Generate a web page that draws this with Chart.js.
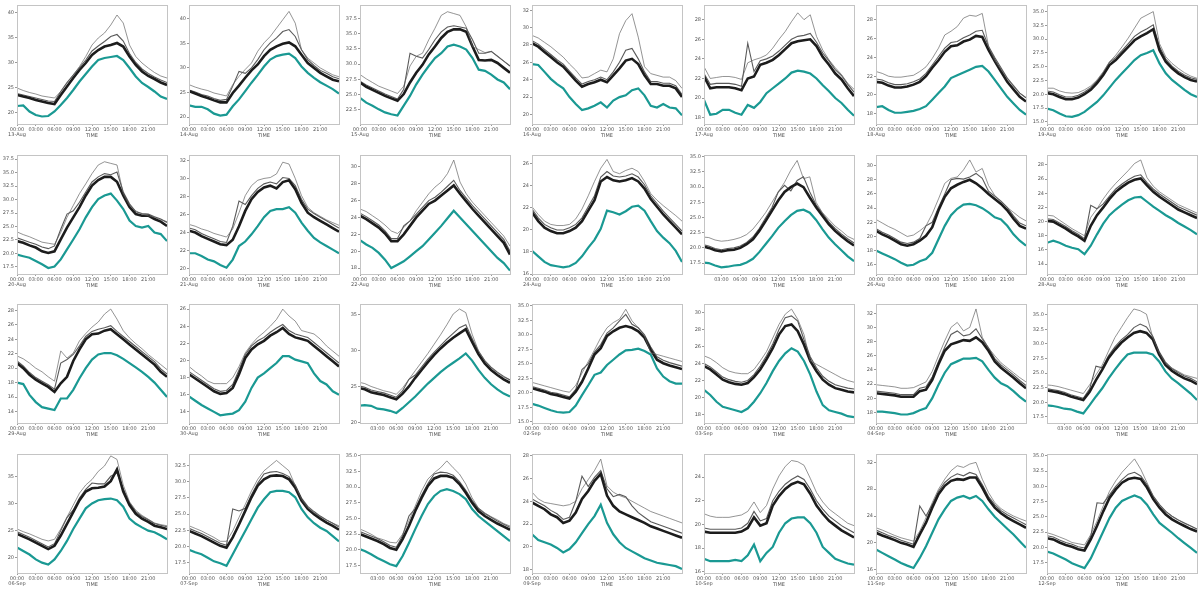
<!DOCTYPE html>
<html>
<head>
<meta charset="utf-8">
<script src="https://cdn.jsdelivr.net/npm/chart.js"></script>
<style>
  html, body { margin: 0; padding: 0; background: #fff; overflow: hidden; }
  #grid { position: relative; width: 1202px; height: 589px; }
  #grid canvas { position: absolute; }
</style>
</head>
<body>
<div id="grid"></div>
<script>
// hourly samples, 00:00 .. 24:00
const hours = [0,1,2,3,4,5,6,7,8,9,10,11,12,13,14,15,16,17,18,19,20,21,22,23,24];
const tickHours = [0, 3, 6, 9, 12, 15, 18, 21];

// one panel per day; null = day starts after midnight so no 00:00 label
const dayLabels = [
  '13-Aug','14-Aug','15-Aug','16-Aug','17-Aug','18-Aug','19-Aug',
  '20-Aug','21-Aug','22-Aug','24-Aug',null,'26-Aug','28-Aug',
  '29-Aug','30-Aug',null,'02-Sep','03-Sep','04-Sep',null,
  '06-Sep','07-Sep',null,'09-Sep','10-Sep','11-Sep','12-Sep'
];

const yMin = [17.7,18.6,20.2,18.9,17.35,16.9,14.6, 16.2,19.4,17.3,16.0,15.7,14.7,12.6, 12.4,12.7,19.9,14.8,17.0,16.5,16.45, 17.2,15.9,16.3,17.7,15.9,15.5,15.8];
const yMax = [41.5,42.8,39.7,32.6,29.5,29.6,36.2, 38.25,32.6,31.4,26.8,35.3,31.5,29.4, 28.9,26.6,36.5,35.3,31.0,33.3,36.85, 39.1,34.3,35.3,28.15,25.95,33.25,35.3];
const yStep = [5,5,2.5,2,2,2,2.5, 2.5,2,2,2,2.5,2,2, 2,2,5,2.5,2,2,2.5, 5,2.5,2.5,2,2,4,2.5];

// outdoor temperature (teal)
const outdoor = [
  [21.3,21.4,20.2,19.5,19.2,19.3,20.2,21.5,22.9,24.5,26.2,27.7,29.2,30.5,30.9,31.1,31.3,30.5,28.9,27.2,25.9,25.1,24.2,23.2,22.7],
  [22.4,22.1,22.1,21.6,20.7,20.3,20.5,22.2,23.6,25.3,27.0,28.6,30.3,31.7,32.4,32.7,32.9,32.0,30.3,29.0,28.0,27.1,26.4,25.7,24.8],
  [24.5,23.7,23.2,22.6,22.1,21.8,21.6,23.2,24.8,26.7,28.3,29.7,31.0,31.8,32.9,33.2,32.9,32.4,31.0,29.1,28.9,28.3,27.5,27.0,25.9],
  [25.8,25.7,24.9,24.1,23.5,23.0,22.0,21.2,20.5,20.7,21.0,21.4,20.8,21.6,22.0,22.2,22.8,23.0,22.2,21.0,20.8,21.2,20.8,20.7,19.9],
  [19.8,18.3,18.4,18.8,18.8,18.5,18.3,19.3,19.0,19.6,20.5,21.0,21.5,22.0,22.6,22.8,22.7,22.5,22.0,21.3,20.7,20.0,19.5,18.8,18.2],
  [18.7,18.8,18.4,18.1,18.1,18.2,18.3,18.5,18.8,19.5,20.2,20.9,21.8,22.1,22.4,22.7,23.0,23.1,22.5,21.6,20.7,19.8,19.1,18.4,17.9],
  [17.4,17.1,16.5,16.0,15.9,16.2,16.8,17.7,18.6,19.8,21.2,22.6,23.8,25.0,26.2,27.1,27.5,28.0,25.6,23.8,22.6,21.7,20.8,20.0,19.5],
  [19.8,19.5,19.2,18.6,18.0,17.3,17.6,18.9,20.75,22.6,24.5,26.7,28.6,30.1,30.75,31.1,29.8,28.25,26.1,25.1,24.8,25.1,23.9,23.6,22.3],
  [21.7,21.7,21.4,21.0,20.8,20.4,20.1,21.0,22.5,23.0,23.8,24.7,25.7,26.4,26.6,26.6,26.8,26.2,25.1,24.2,23.4,22.9,22.5,22.1,21.7],
  [21.3,20.8,20.4,19.8,19.0,18.0,18.4,18.8,19.4,20.0,20.6,21.4,22.2,23.0,23.9,24.8,24.0,23.2,22.4,21.6,20.8,20.0,19.2,18.6,17.7],
  [18.1,17.6,17.1,16.8,16.7,16.6,16.7,17.0,17.6,18.4,19.1,20.1,21.75,21.6,21.4,21.7,22.1,22.2,21.75,20.8,19.9,19.3,18.8,18.1,17.1],
  [17.6,17.5,17.1,16.8,16.9,17.1,17.2,17.6,18.2,19.3,20.6,21.9,23.3,24.4,25.4,26.1,26.3,25.8,24.6,23.1,21.7,20.6,19.6,18.6,17.8],
  [18.0,17.6,17.2,16.8,16.3,15.9,16.0,16.5,16.8,17.7,19.6,21.5,23.0,23.9,24.5,24.6,24.4,24.0,23.4,22.7,22.4,21.5,20.3,19.4,18.7],
  [17.0,17.3,17.0,16.6,16.3,16.1,15.4,16.6,18.2,19.7,20.9,21.7,22.4,23.0,23.4,23.5,22.8,22.1,21.5,20.9,20.4,19.8,19.3,18.8,18.2],
  [18.0,17.8,16.3,15.3,14.6,14.4,14.2,15.8,15.8,17.0,18.6,20.0,21.2,21.9,22.1,22.1,21.8,21.3,20.7,20.1,19.5,18.8,18.0,17.0,16.0],
  [15.8,15.3,14.8,14.4,14.0,13.6,13.7,13.8,14.2,15.2,16.8,18.0,18.5,19.1,19.7,20.5,20.5,20.1,19.9,19.7,18.5,17.6,17.2,16.4,16.0],
  [22.3,22.4,22.3,21.9,21.8,21.6,21.3,22.0,22.8,23.6,24.5,25.4,26.2,27.0,27.7,28.3,28.9,29.6,28.6,27.3,26.2,25.3,24.6,24.0,23.6],
  [18.1,17.8,17.4,17.0,16.7,16.6,16.7,17.8,19.6,21.3,23.1,23.5,24.8,25.7,26.6,27.3,27.4,27.6,27.2,26.6,24.2,22.8,22.0,21.6,21.6],
  [20.9,20.3,19.5,18.9,18.7,18.5,18.3,18.7,19.5,20.5,21.7,23.1,24.3,25.2,25.8,25.4,24.3,22.7,20.7,19.1,18.5,18.3,18.1,17.8,17.7],
  [18.1,18.1,18.0,17.9,17.7,17.7,17.9,18.3,18.6,20.0,21.9,23.6,24.8,25.2,25.6,25.6,25.7,25.2,24.0,22.9,22.1,21.7,21.0,20.2,19.5],
  [19.5,19.4,19.2,18.9,18.8,18.4,18.1,19.5,21.0,22.4,24.1,25.6,27.0,28.2,28.5,28.5,28.5,28.2,27.0,25.3,24.1,23.3,22.4,21.5,20.4],
  [21.9,21.25,20.6,19.7,19.1,18.75,19.7,21.25,23.1,25.3,27.2,29.1,30.0,30.6,30.8,30.9,30.6,29.4,27.2,26.25,25.6,25.0,24.7,24.1,23.4],
  [19.5,19.1,18.8,18.25,17.7,17.4,17.0,18.8,20.6,22.4,24.2,26.0,27.3,28.4,28.6,28.6,28.4,27.6,25.8,24.5,23.6,22.9,22.4,21.6,20.8],
  [20.2,19.8,19.3,18.7,18.2,17.7,17.4,19.0,21.1,23.3,25.4,27.3,28.6,29.4,29.7,29.4,28.9,28.1,26.5,25.4,24.6,23.8,23.0,22.2,21.4],
  [21.1,20.6,20.4,20.2,19.9,19.5,19.8,20.4,21.2,22.0,22.7,23.7,22.1,21.1,20.4,19.9,19.6,19.3,19.0,18.8,18.6,18.5,18.4,18.3,18.05],
  [17.1,16.9,16.9,16.9,16.9,17.0,16.9,17.4,18.3,16.9,17.6,18.1,19.3,20.1,20.5,20.6,20.6,20.1,19.3,18.1,17.6,17.1,16.9,16.7,16.6],
  [19.0,18.5,18.0,17.5,17.0,16.6,16.25,17.75,19.5,21.5,23.5,25.0,26.25,26.75,27.0,26.6,27.0,26.25,25.0,23.9,23.0,22.1,21.25,20.25,19.25],
  [19.3,19.0,18.5,18.0,17.4,17.0,16.6,18.2,20.4,22.6,24.8,26.5,27.6,28.1,28.5,28.1,27.0,25.4,24.0,23.2,22.4,21.5,20.7,19.9,19.1]
];

// indoor sensors: dense middle of the bundle
const indoorMain = [
  [23.5,23.2,22.9,22.5,22.2,21.9,21.7,23.5,25.2,26.9,28.5,29.9,31.5,32.5,33.2,33.5,33.9,33.2,31.2,29.5,28.2,27.3,26.7,26.0,25.5],
  [25.3,24.8,24.3,23.9,23.4,23.0,23.0,24.9,26.4,28.0,29.5,30.7,32.4,33.7,34.4,34.9,35.2,34.4,32.7,31.0,30.0,29.0,28.3,27.6,27.3],
  [27.0,26.3,25.8,25.3,24.8,24.4,24.0,25.1,27.0,28.6,29.9,31.6,32.9,34.3,35.3,35.7,35.7,35.3,32.9,30.7,30.6,30.7,30.2,29.4,28.6],
  [28.2,27.8,27.2,26.6,26.0,25.5,24.7,23.9,23.2,23.5,23.7,24.0,23.7,24.5,25.3,26.2,26.4,25.8,24.5,23.5,23.5,23.3,23.3,23.0,22.0],
  [22.2,21.0,21.1,21.1,21.1,21.0,20.8,22.0,22.2,23.4,23.6,23.9,24.4,25.0,25.6,25.8,25.9,26.0,25.3,24.2,23.4,22.5,21.9,21.0,20.2],
  [21.4,21.3,21.0,20.8,20.8,20.9,21.1,21.4,22.0,22.9,23.7,24.6,25.2,25.3,25.7,25.9,26.3,26.2,24.8,23.6,22.5,21.4,20.6,19.8,19.3],
  [20.2,20.0,19.5,19.1,19.1,19.4,20.0,20.8,22.0,23.5,25.3,26.2,27.4,28.6,29.8,30.5,31.1,31.8,28.0,25.9,24.7,23.8,23.1,22.6,22.3],
  [22.3,22.0,21.5,21.1,20.4,20.1,20.4,22.6,24.8,26.7,28.6,30.75,32.6,33.6,34.2,34.2,33.3,30.75,28.6,27.3,27.0,27.0,26.4,25.9,25.1],
  [24.2,24.0,23.6,23.3,23.0,22.7,22.6,23.2,24.7,26.4,27.7,28.5,29.0,29.2,28.9,29.6,29.8,28.8,27.3,26.2,25.7,25.3,24.9,24.5,24.1],
  [24.2,23.8,23.3,22.8,22.1,21.2,21.2,22.0,23.0,24.0,24.8,25.6,26.0,26.6,27.2,27.8,26.8,25.9,25.0,24.2,23.4,22.6,21.8,21.0,19.6],
  [21.6,20.8,20.2,19.9,19.7,19.7,19.9,20.2,20.8,21.75,22.7,24.4,24.8,24.5,24.4,24.5,24.7,24.4,23.75,22.8,22.1,21.4,20.8,20.2,19.6],
  [20.3,20.0,19.6,19.4,19.6,19.7,20.0,20.6,21.4,22.8,24.4,26.1,27.8,29.2,30.0,30.6,30.0,28.3,26.7,25.3,23.9,22.8,21.9,21.1,20.4],
  [20.8,20.3,19.9,19.4,18.9,18.7,18.9,19.4,20.1,21.3,23.7,25.6,26.8,27.3,27.7,28.0,27.5,26.8,26.0,25.3,24.6,23.7,22.5,21.5,21.1],
  [20.1,20.0,19.5,19.0,18.4,17.9,17.3,19.4,20.9,22.0,23.2,24.2,24.9,25.5,25.9,26.1,25.1,24.2,23.5,22.9,22.3,21.7,21.3,20.9,20.5],
  [20.7,20.0,19.1,18.4,17.9,17.4,16.7,17.9,18.8,21.0,22.6,24.0,24.7,24.8,25.2,25.4,24.7,24.0,23.3,22.6,21.9,21.2,20.5,19.5,18.8],
  [18.4,17.9,17.4,16.9,16.4,16.1,16.2,16.8,18.4,20.3,21.3,21.9,22.3,22.9,23.3,23.8,23.1,22.7,22.5,22.3,21.7,21.1,20.5,19.9,19.3],
  [24.8,24.6,24.2,24.0,23.8,23.5,23.2,24.0,25.0,26.2,27.3,28.4,29.4,30.3,31.1,31.8,32.4,33.0,31.2,29.5,28.2,27.3,26.6,26.0,25.5],
  [20.8,20.5,20.2,19.8,19.6,19.3,19.0,20.2,21.9,24.2,26.6,27.7,29.8,30.6,31.2,31.5,31.2,30.6,29.5,27.4,25.7,25.1,24.7,24.4,24.1],
  [23.7,23.3,22.7,22.1,21.8,21.6,21.5,21.7,22.4,23.3,24.5,25.8,27.4,28.4,28.6,27.8,26.2,24.3,23.1,22.1,21.5,21.1,20.9,20.7,20.6],
  [20.7,20.6,20.5,20.4,20.2,20.2,20.2,21.0,21.2,22.6,24.8,26.7,27.6,27.9,28.2,28.1,28.6,27.9,26.7,25.2,24.3,23.6,22.9,22.1,21.4],
  [22.1,21.9,21.7,21.4,21.0,20.7,20.4,21.8,23.8,25.6,27.6,29.0,30.2,31.1,31.9,32.2,31.9,30.8,28.2,26.4,25.4,24.7,24.1,23.7,23.1],
  [24.4,23.9,23.4,22.8,22.2,21.6,22.2,24.1,26.25,28.4,30.6,32.2,32.8,32.9,33.1,34.1,36.25,32.2,29.7,28.1,27.2,26.6,25.9,25.6,25.3],
  [22.4,22.0,21.6,21.1,20.6,20.1,19.8,21.4,23.4,25.5,27.6,29.4,30.4,30.9,31.0,30.9,30.4,29.1,27.1,25.8,25.0,24.3,23.7,23.2,22.6],
  [22.6,22.2,21.8,21.4,20.9,20.3,20.0,21.7,23.8,26.2,28.3,30.2,31.4,31.8,31.8,31.5,30.5,29.1,27.5,26.2,25.4,24.8,24.2,23.7,23.2],
  [23.9,23.6,23.3,22.85,22.6,22.1,22.3,23.0,24.2,24.9,25.8,26.4,24.5,23.6,23.1,22.85,22.6,22.35,22.1,21.8,21.6,21.4,21.2,21.0,20.8],
  [19.4,19.3,19.3,19.3,19.3,19.3,19.4,19.7,20.6,19.9,20.1,21.6,22.4,23.0,23.4,23.6,23.4,22.6,21.6,20.9,20.3,19.9,19.5,19.2,18.9],
  [21.5,21.1,20.75,20.4,20.0,19.75,19.4,21.25,23.0,25.25,27.25,28.5,29.25,29.5,29.4,29.75,29.75,28.25,26.5,25.25,24.4,23.75,23.25,22.75,22.25],
  [21.5,21.3,20.8,20.4,20.1,19.7,19.5,21.3,23.5,25.9,28.1,29.5,30.6,31.2,31.4,31.2,29.8,27.9,26.5,25.4,24.6,24.0,23.5,23.0,22.6]
];

// indoor sensors: upper edge of the bundle
const indoorUpper = [
  [23.8,23.5,23.2,22.9,22.6,22.3,22.2,24.2,26.0,27.5,29.0,30.5,32.3,33.3,34.2,35.2,35.6,34.3,31.8,30.0,28.7,27.8,27.1,26.5,26.0],
  [25.5,25.1,24.6,24.3,23.8,23.4,23.6,26.3,29.3,28.9,30.0,31.7,33.7,35.1,36.1,37.4,37.8,36.4,33.7,31.7,30.5,29.5,28.9,28.2,27.8],
  [27.2,26.6,26.1,25.6,25.1,24.7,24.3,25.9,31.8,31.3,31.0,32.4,34.0,35.3,36.1,36.3,36.1,35.9,34.0,31.8,31.8,32.1,31.3,30.5,29.7],
  [28.5,28.1,27.5,26.9,26.3,25.8,25.0,24.2,23.5,23.8,24.0,24.3,24.0,24.9,26.0,27.4,27.6,26.4,24.9,23.8,23.8,23.6,23.6,23.3,22.3],
  [22.5,21.4,21.5,21.5,21.5,21.4,21.2,25.6,22.7,23.8,24.0,24.3,24.8,25.4,26.0,26.3,26.4,26.6,25.7,24.6,23.8,22.9,22.3,21.4,20.6],
  [21.7,21.6,21.3,21.1,21.1,21.2,21.4,21.7,22.3,23.2,24.1,25.0,25.6,25.7,26.1,26.4,26.8,26.9,25.2,24.0,22.9,21.8,21.0,20.2,19.7],
  [20.6,20.4,19.9,19.5,19.5,19.8,20.4,21.2,22.4,23.9,25.8,26.7,27.9,29.2,30.5,31.3,31.9,32.6,28.6,26.4,25.1,24.2,23.5,23.0,22.7],
  [22.9,22.5,22.1,21.7,21.2,20.9,21.4,24.5,27.3,27.9,29.5,31.4,33.25,34.2,34.8,34.6,35.1,31.4,29.2,27.75,27.4,27.3,26.8,26.4,25.75],
  [24.5,24.3,23.9,23.6,23.3,23.0,22.9,24.7,27.5,27.1,28.1,28.9,29.4,29.6,29.4,30.1,30.0,29.2,27.7,26.6,26.1,25.7,25.3,24.9,24.5],
  [24.5,24.1,23.6,23.1,22.4,21.5,21.5,23.0,23.6,24.4,25.2,26.0,26.4,27.0,27.7,28.4,27.2,26.3,25.4,24.6,23.8,23.0,22.2,21.4,20.0],
  [21.9,21.1,20.5,20.2,20.0,20.0,20.2,20.5,21.1,22.1,23.1,24.8,25.3,24.9,24.8,24.9,25.1,24.8,24.1,23.1,22.4,21.7,21.1,20.5,19.9],
  [20.6,20.3,19.9,19.7,19.9,20.0,20.3,20.9,21.8,23.2,24.9,26.6,29.2,30.3,29.4,31.1,31.7,29.2,27.1,25.7,24.3,23.2,22.3,21.5,20.8],
  [21.1,20.6,20.2,19.7,19.2,19.0,19.2,19.7,21.5,22.0,24.1,26.0,28.0,28.2,28.1,28.4,28.9,28.2,26.4,25.7,25.0,24.1,22.9,21.9,21.5],
  [20.4,20.3,19.8,19.3,18.7,18.2,17.6,22.3,21.8,22.5,23.6,24.6,25.3,25.9,26.4,26.6,25.5,24.6,23.9,23.3,22.7,22.1,21.7,21.3,20.9],
  [21.0,20.3,19.4,18.7,18.2,17.7,17.1,20.7,21.2,21.9,23.1,24.4,25.1,25.4,25.6,25.9,25.1,24.4,23.7,23.0,22.3,21.6,20.9,19.9,19.2],
  [18.7,18.2,17.7,17.2,16.7,16.4,16.5,17.2,18.9,20.7,21.7,22.3,22.7,23.3,23.8,24.2,23.5,23.1,22.9,22.7,22.1,21.5,20.9,20.3,19.7],
  [25.1,24.9,24.5,24.3,24.1,23.8,23.5,24.4,26.0,26.6,27.7,28.8,29.8,30.7,31.6,32.4,33.2,33.6,31.7,29.9,28.6,27.7,27.0,26.4,25.9],
  [21.1,20.8,20.5,20.1,19.9,19.6,19.3,20.6,24.0,25.0,27.0,28.3,30.3,31.2,32.4,33.5,31.8,31.2,30.0,27.9,26.2,25.6,25.2,24.9,24.6],
  [24.0,23.6,23.0,22.4,22.1,21.9,21.8,22.0,22.7,23.7,24.9,26.3,28.0,29.4,29.6,29.0,26.8,24.8,23.5,22.5,21.9,21.5,21.3,21.1,21.0],
  [21.0,20.9,20.8,20.7,20.5,20.5,20.5,21.4,21.6,23.0,25.2,27.2,29.0,29.5,28.8,29.0,29.8,28.4,27.1,25.6,24.7,24.0,23.3,22.5,21.8],
  [22.4,22.2,22.0,21.7,21.3,21.0,20.7,22.3,26.2,25.9,28.0,29.5,30.7,31.6,32.8,33.4,32.9,31.3,28.7,26.9,25.8,25.1,24.5,24.1,23.5],
  [24.8,24.3,23.8,23.2,22.6,22.0,22.6,25.0,27.4,28.8,31.0,32.6,33.75,33.6,33.6,35.0,35.6,32.7,30.1,28.5,27.6,27.0,26.3,26.0,25.7],
  [22.8,22.4,22.0,21.5,21.0,20.5,20.2,25.8,25.5,25.9,28.0,29.8,31.2,31.5,31.6,31.3,30.8,29.5,27.5,26.2,25.4,24.7,24.1,23.6,23.0],
  [23.0,22.6,22.2,21.8,21.3,20.7,20.4,22.3,25.4,26.6,28.7,30.6,32.1,32.4,32.3,31.9,30.9,29.5,27.9,26.6,25.8,25.2,24.6,24.1,23.6],
  [24.2,23.9,23.6,23.2,22.9,22.4,22.6,24.0,26.2,25.3,26.1,26.7,25.1,24.4,24.6,24.4,23.6,23.0,22.6,22.2,22.0,21.8,21.6,21.4,21.2],
  [19.7,19.6,19.6,19.6,19.6,19.6,19.7,20.1,21.1,20.3,20.5,22.0,22.8,23.4,23.8,24.1,23.8,23.0,22.0,21.3,20.7,20.3,19.9,19.6,19.3],
  [21.9,21.5,21.1,20.8,20.4,20.1,19.8,25.5,24.0,25.7,27.7,29.0,29.8,30.3,30.0,30.5,30.2,28.7,26.9,25.7,24.8,24.2,23.7,23.2,22.7],
  [21.9,21.7,21.2,20.8,20.5,20.1,19.9,21.8,27.3,27.2,28.6,30.0,31.1,32.0,32.3,31.7,30.3,28.4,27.0,25.9,25.1,24.5,24.0,23.5,23.0]
];

// indoor sensors: the warmest one
const indoorTop = [
  [24.9,24.4,24.0,23.7,23.3,23.1,22.9,24.2,25.9,27.5,29.2,31.2,33.5,34.9,35.9,37.5,39.5,37.9,33.5,31.2,29.9,28.9,28.0,27.3,26.9],
  [26.6,26.1,25.7,25.4,24.9,24.6,24.3,26.6,28.3,29.7,31.0,33.4,35.1,36.4,38.1,39.8,41.5,39.1,33.7,32.0,31.0,30.0,29.3,28.6,28.2],
  [28.3,27.6,27.0,26.4,26.0,25.6,25.2,26.4,29.7,31.3,31.8,34.0,35.9,38.0,38.6,38.3,38.0,36.1,32.9,32.4,31.9,32.1,31.3,30.5,29.7],
  [29.1,28.8,28.3,27.8,27.2,26.6,25.8,25.1,24.2,24.3,24.7,25.1,24.9,26.4,29.3,30.8,31.6,28.9,25.5,24.7,24.5,24.3,24.3,23.9,23.0],
  [23.2,22.0,22.1,22.2,22.2,22.1,21.9,23.6,23.9,24.1,24.4,25.1,26.0,26.8,27.8,28.7,28.0,28.5,26.3,24.9,23.9,23.1,22.4,21.5,20.9],
  [22.5,22.3,22.0,21.9,21.9,22.0,22.1,22.5,23.0,23.9,25.0,26.4,26.8,27.3,28.2,28.5,28.4,28.7,25.2,23.7,22.7,21.8,20.9,20.2,19.7],
  [21.1,21.1,20.6,20.3,20.2,20.3,20.8,21.5,22.6,24.1,25.9,27.1,28.6,30.2,32.0,33.8,34.4,35.0,29.2,26.8,25.6,24.7,23.9,23.3,22.9],
  [24.0,23.5,23.1,22.6,22.1,21.9,21.7,23.9,26.7,28.9,31.1,32.9,34.8,36.4,37.0,36.7,36.4,31.1,28.9,27.9,27.3,27.0,26.7,26.25,25.9],
  [24.9,24.7,24.4,24.2,23.9,23.7,23.5,24.4,26.2,28.1,29.2,29.8,30.0,30.1,30.5,31.8,31.6,30.0,28.1,26.8,26.2,25.8,25.4,25.1,24.8],
  [25.0,24.7,24.2,23.7,23.1,22.4,22.1,22.8,23.6,24.8,25.8,26.8,27.6,28.2,29.2,30.8,28.2,26.8,25.8,25.0,24.2,23.4,22.6,21.8,20.6],
  [22.1,21.4,20.8,20.5,20.4,20.4,20.5,21.0,21.9,23.1,24.4,25.6,26.4,25.3,25.1,25.4,25.6,25.3,24.4,23.3,22.7,22.2,21.75,21.3,20.8],
  [21.8,21.7,21.3,21.1,21.2,21.4,21.7,22.2,23.1,24.4,25.8,27.5,29.2,30.8,32.8,34.4,31.4,31.7,27.5,25.8,24.7,23.6,22.8,21.9,21.4],
  [22.4,21.9,21.4,21.0,20.5,20.0,20.2,20.8,21.5,23.2,25.3,27.5,28.2,28.4,29.4,30.8,29.1,29.6,27.2,25.8,24.9,24.1,23.4,22.7,22.2],
  [20.9,20.8,20.2,19.6,19.0,18.5,18.0,20.6,21.8,23.2,24.4,25.4,26.3,27.2,28.2,28.7,26.2,25.0,24.2,23.6,23.0,22.4,22.0,21.6,21.2],
  [21.7,21.3,20.7,20.0,19.5,18.8,18.2,22.4,21.4,22.1,23.8,24.8,25.7,26.4,27.5,28.2,26.8,25.2,24.2,23.4,22.7,21.9,21.2,20.5,19.8],
  [19.3,18.7,18.2,17.6,17.3,17.3,17.3,18.0,19.3,20.9,21.9,22.7,23.3,24.0,24.8,26.0,25.2,24.6,23.5,23.3,23.1,22.5,21.7,21.1,20.5],
  [25.6,25.4,25.0,24.7,24.4,24.2,23.9,24.8,26.0,27.2,28.4,29.6,30.9,32.2,33.6,35.1,35.8,35.3,32.3,30.0,28.6,27.6,26.9,26.3,25.9],
  [21.8,21.5,21.2,20.9,20.6,20.3,20.1,21.3,23.4,25.4,27.4,29.5,31.2,32.1,32.7,34.4,32.4,31.2,29.8,26.9,26.6,26.3,26.0,25.7,25.4],
  [24.9,24.6,24.1,23.5,23.1,22.9,22.8,22.8,23.3,24.3,25.4,27.0,28.6,29.8,30.4,29.2,27.4,24.3,23.9,23.5,23.1,22.7,22.3,22.0,21.8],
  [21.9,21.8,21.7,21.6,21.4,21.4,21.5,21.9,22.3,23.8,26.0,28.1,30.0,30.7,29.5,30.0,32.6,28.6,27.1,26.0,25.0,24.3,23.6,22.9,22.3],
  [23.0,22.9,22.7,22.4,22.1,21.8,21.5,23.0,24.7,26.4,28.8,31.1,32.8,34.5,36.0,35.7,35.1,31.1,28.5,26.7,25.9,25.3,24.7,24.4,24.1],
  [25.3,24.8,24.4,23.9,23.4,23.1,23.4,25.3,27.5,29.7,31.9,33.4,34.4,35.9,36.9,38.75,38.1,33.4,30.3,28.75,27.8,27.1,26.4,26.1,25.9],
  [23.2,22.8,22.4,21.9,21.4,20.8,20.8,22.4,24.5,26.5,28.6,30.4,31.7,32.5,33.3,32.5,31.7,29.4,27.3,26.0,25.2,24.6,24.1,23.6,23.2],
  [23.4,23.0,22.5,21.9,21.6,21.2,21.1,22.5,24.6,27.0,29.4,31.3,32.3,33.1,34.2,33.1,32.1,30.5,28.3,26.7,25.9,25.3,24.8,24.2,23.8],
  [24.8,24.2,23.9,23.8,23.7,23.6,23.7,24.0,25.1,25.9,26.7,27.7,25.35,24.8,24.5,24.3,24.0,23.7,23.4,23.1,22.9,22.7,22.5,22.3,22.1],
  [20.9,20.7,20.6,20.6,20.6,20.7,20.8,21.1,21.9,21.0,21.6,23.0,24.1,24.9,25.4,25.3,25.0,23.9,22.7,21.9,21.3,20.9,20.5,20.1,19.9],
  [22.25,21.9,21.5,21.1,20.75,20.5,20.25,21.75,23.75,26.0,28.0,29.5,30.75,31.5,31.25,31.75,32.0,29.5,27.5,26.0,25.1,24.5,24.0,23.6,23.25],
  [22.4,22.1,21.7,21.3,20.8,20.6,20.4,22.1,24.3,26.8,29.2,30.9,32.3,33.4,34.5,32.8,30.6,28.4,27.0,25.9,25.1,24.5,23.9,23.5,23.0]
];

const COLS = 7;
const CELL_W = 1202 / 7;
const CELL_H = 149.5;
const TEXT = '#555';
const tickFont = { family: 'DejaVu Sans', size: 5, lineHeight: 1 };

// matplotlib-like frame around the plot area
const frame = {
  id: 'frame',
  afterDatasetsDraw(chart) {
    const a = chart.chartArea, ctx = chart.ctx;
    ctx.save();
    ctx.strokeStyle = '#c4c4c4';
    ctx.lineWidth = 1;
    ctx.strokeRect(Math.round(a.left) + 0.5, Math.round(a.top) + 0.5,
                   Math.round(a.right - a.left), Math.round(a.bottom - a.top));
    ctx.restore();
  }
};

function pts(values) {
  return values.map((v, i) => ({ x: hours[i], y: v }));
}

function line(values, color, width) {
  return { data: pts(values), borderColor: color, borderWidth: width,
           pointRadius: 0, tension: 0, fill: false };
}

const grid = document.getElementById('grid');

for (let i = 0; i < dayLabels.length; i++) {
  const row = Math.floor(i / COLS), col = i % COLS;
  const cv = document.createElement('canvas');
  cv.width = 172;
  cv.height = 150;
  cv.style.left = Math.round(col * CELL_W) + 'px';
  cv.style.top = Math.round(row * CELL_H) + 'px';
  grid.appendChild(cv);

  const day = dayLabels[i];
  const step = yStep[i];

  new Chart(cv, {
    type: 'line',
    data: {
      datasets: [
        line(indoorTop[i], 'rgba(95,95,95,0.75)', 0.9),
        line(indoorUpper[i], 'rgba(35,35,35,0.75)', 1.1),
        line(indoorMain[i], '#1c1c1c', 2.6),
        line(outdoor[i], '#1a9993', 2.2)
      ]
    },
    options: {
      responsive: false,
      animation: false,
      events: [],
      layout: { padding: { top: 5, right: 5, bottom: 11, left: 0 } },
      plugins: { legend: { display: false }, tooltip: { enabled: false } },
      scales: {
        x: {
          type: 'linear',
          min: day ? 0 : 0.25,
          max: 24,
          afterBuildTicks: s => {
            s.ticks = tickHours.filter(h => h >= s.min).map(h => ({ value: h }));
          },
          afterFit: s => { s.height = 15; },
          ticks: {
            autoSkip: false, maxRotation: 0, padding: 1, color: TEXT, font: tickFont,
            callback: v => {
              const t = String(v).padStart(2, '0') + ':00';
              return v === 0 && day ? [t, day] : t;
            }
          },
          grid: { drawOnChartArea: false, tickLength: 2, color: '#999' },
          border: { display: false },
          title: { display: true, text: 'TIME', color: TEXT,
                   font: { family: 'DejaVu Sans', size: 5 }, padding: 0 }
        },
        y: {
          min: yMin[i],
          max: yMax[i],
          afterBuildTicks: s => {
            const out = [];
            for (let v = Math.ceil(s.min / step) * step; v <= s.max + 1e-9; v += step) {
              out.push({ value: Math.round(v * 100) / 100 });
            }
            s.ticks = out;
          },
          afterFit: s => { s.width = 17; },
          ticks: {
            padding: 1, color: TEXT, font: tickFont,
            callback: v => step % 1 ? v.toFixed(1) : String(v)
          },
          grid: { drawOnChartArea: false, tickLength: 2, color: '#999' },
          border: { display: false }
        }
      }
    },
    plugins: [frame]
  });
}
</script>
</body>
</html>
